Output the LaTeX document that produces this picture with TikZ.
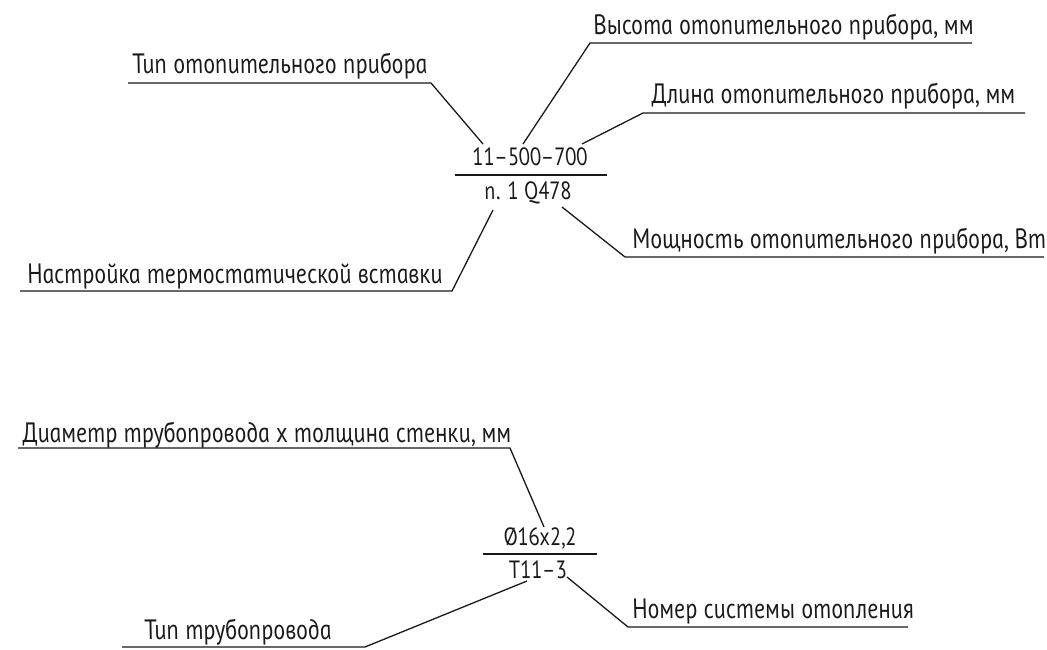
\documentclass[tikz,border=0pt]{standalone}
\usepackage{fontspec}
\newfontfamily\gost{PT Sans}[UprightFont=* Italic, FakeSlant=-0.2, FakeStretch=0.85]
\definecolor{ink}{RGB}{25,25,25}

\begin{document}
\begin{tikzpicture}[x=1pt,y=-1pt,line width=1.3pt,ink,
  lbl/.style={font=\gost\fontsize{28}{32}\selectfont,inner sep=0pt,anchor=base west},
  val/.style={font=\gost\fontsize{25}{30}\selectfont,inner sep=0pt,anchor=base}]
  \useasboundingbox (0,0) rectangle (1047,650);
  % radiator marking
  \node[val] (rad-up) at (531,166) {11–500–700};
  \node[val] (rad-dn) at (529,199) {п. 1 Q478};
  \coordinate (bar1-l) at (455,175);
  \coordinate (bar1-r) at (607,175);
  \draw (bar1-l)--(bar1-r);
  \node[lbl] (typ1) at (133,74) {Тип отопительного прибора};
  \coordinate (typ1-l) at (128,83);
  \coordinate (typ1-r) at (431,83);
  \coordinate (typ1-t) at (483,144);
  \draw (typ1-l)--(typ1-r)--(typ1-t);
  \node[lbl] (hgt) at (594,35) {Высота отопительного прибора, мм};
  \coordinate (hgt-l) at (590,43);
  \coordinate (hgt-r) at (972,43);
  \coordinate (hgt-t) at (523,144);
  \draw (hgt-r)--(hgt-l)--(hgt-t);
  \node[lbl] (len) at (652,104) {Длина отопительного прибора, мм};
  \coordinate (len-l) at (643,113);
  \coordinate (len-r) at (1025,113);
  \coordinate (len-t) at (582,144);
  \draw (len-r)--(len-l)--(len-t);
  \node[lbl] (pow) at (633,248) {Мощность отопительного прибора, Вт};
  \coordinate (pow-t) at (562,207);
  \coordinate (pow-l) at (625,257);
  \coordinate (pow-r) at (1044,257);
  \draw (pow-t)--(pow-l)--(pow-r);
  \node[lbl] (set) at (28,283) {Настройка термостатической вставки};
  \coordinate (set-t) at (493,210);
  \coordinate (set-r) at (452,291);
  \coordinate (set-l) at (20,291);
  \draw (set-t)--(set-r)--(set-l);
  % pipe marking
  \node[val] (pip-up) at (541,545) {Ø16x2,2};
  \node[val] (pip-dn) at (539,578) {Т11–3};
  \coordinate (bar2-l) at (483,554);
  \coordinate (bar2-r) at (597,554);
  \draw (bar2-l)--(bar2-r);
  \node[lbl] (dia) at (23,442) {Диаметр трубопровода х толщина стенки, мм};
  \coordinate (dia-l) at (18,448);
  \coordinate (dia-r) at (510,448);
  \coordinate (dia-t) at (544,527);
  \draw (dia-l)--(dia-r)--(dia-t);
  \node[lbl] (num) at (633,618) {Номер системы отопления};
  \coordinate (num-t) at (567,577);
  \coordinate (num-l) at (628,627);
  \coordinate (num-r) at (908,627);
  \draw (num-t)--(num-l)--(num-r);
  \node[lbl] (pip) at (145,639) {Тип трубопровода};
  \coordinate (pip-t) at (527,581);
  \coordinate (pip-r) at (365,647);
  \coordinate (pip-l) at (122,647);
  \draw (pip-t)--(pip-r)--(pip-l);
\end{tikzpicture}
\end{document}
